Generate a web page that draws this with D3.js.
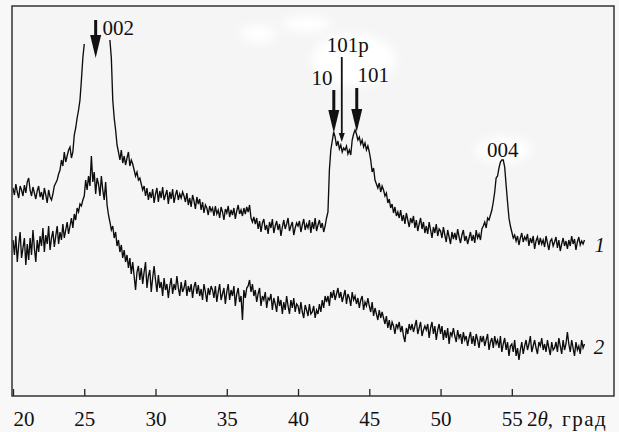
<!DOCTYPE html>
<html>
<head>
<meta charset="utf-8">
<script src="https://cdn.jsdelivr.net/npm/d3@7"></script>
<style>
  html, body { margin: 0; padding: 0; background: #f8f8f8; }
  svg { display: block; }
  svg text { font-family: "Liberation Serif", "Times New Roman", "DejaVu Serif", serif; }
</style>
</head>
<body>
<div id="chart"></div>
<script>
// ── DATA ─────────────────────────────────────────────────────
// XRD scans, 2θ from 20° in 0.1° steps, intensity in arbitrary units
const scanStart = 20.0;
const scanStep  = 0.1;

// pattern 1 (top). the 002 maximum runs off the top of the frame (nulls)
const curve1 = [
  208,201,212,204,198,210,206,200,211,203,
  214,218,206,200,209,203,197,205,210,199,
  204,196,208,201,193,206,199,196,202,210,
  213,216,222,226,236,230,244,234,240,246,
  249,238,244,261,268,278,286,296,316,338,
  352,null,null,null,null,null,null,null,null,null,
  null,null,null,null,null,null,null,null,356,338,
  296,278,266,251,244,236,246,233,240,231,
  238,244,230,236,232,226,220,224,216,218,
  212,206,210,200,208,196,204,198,207,193,
  202,208,194,205,198,209,196,201,206,192,
  204,197,207,193,201,206,196,202,198,204,
  200,194,203,191,198,189,201,195,187,199,
  192,197,186,194,183,191,188,181,190,185,
  188,180,190,182,186,178,189,184,176,187,
  183,190,179,186,181,188,177,185,191,182,
  186,180,188,182,189,184,191,178,174,179,
  172,178,167,175,164,173,177,166,171,162,
  174,168,177,163,170,175,166,172,160,169,
  176,167,172,178,165,170,174,161,168,173,
  170,175,164,171,177,166,172,168,176,163,
  174,167,178,165,171,176,168,173,164,170,
  178,184,226,246,255,264,259,250,255,247,
  251,244,248,246,250,242,246,241,256,262,
  266,262,256,259,252,256,249,253,246,250,
  244,236,224,228,216,212,208,213,204,210,
  206,200,203,193,197,188,192,183,189,180,
  184,178,186,175,181,172,183,176,169,178,
  173,180,168,176,165,172,178,167,174,163,
  170,162,174,166,158,169,163,172,160,167,
  165,158,169,161,154,166,159,152,164,157,
  163,156,167,159,153,161,166,155,160,152,
  158,164,155,161,153,166,158,162,156,167,
  170,174,168,178,176,181,186,194,204,218,
  220,228,234,236,236,229,211,194,178,170,
  164,158,161,155,160,151,158,163,154,159,
  156,162,150,158,153,160,147,155,159,151,
  158,152,156,149,160,153,146,155,157,150,
  154,159,148,156,145,152,158,150,155,147,
  156,150,160,152,157,146,154,159,151,155,
  152,156
];

// pattern 2 (bottom)
const curve2 = [
  156,141,160,134,151,164,138,148,158,131,
  152,136,158,141,166,148,134,156,144,160,
  150,168,144,161,152,170,146,158,165,149,
  160,170,152,164,156,172,158,166,174,162,
  170,178,168,182,176,188,184,192,190,196,
  200,216,206,220,210,240,214,224,202,218,
  212,200,220,206,196,214,191,181,174,166,
  170,158,164,150,156,144,151,138,146,134,
  141,128,138,122,134,120,106,124,130,116,
  128,112,124,134,108,120,126,104,118,130,
  116,104,121,108,114,100,118,106,112,98,
  110,118,102,112,106,120,108,100,114,104,
  108,116,100,110,104,112,98,109,114,102,
  111,100,107,96,112,104,94,108,101,110,
  106,98,110,94,104,112,96,102,108,92,
  104,112,96,106,100,110,90,102,108,94,
  100,76,106,98,108,110,116,104,112,100,
  106,94,102,108,90,100,96,104,88,98,
  96,102,86,98,92,84,100,90,96,82,
  94,86,100,90,82,96,88,98,84,92,
  90,82,94,84,78,91,86,80,92,82,
  84,90,78,86,82,92,84,96,88,100,
  94,100,90,104,98,106,96,102,108,98,
  104,94,100,106,92,102,98,90,104,96,
  100,92,98,88,96,100,86,94,90,98,
  90,84,94,80,88,82,76,86,78,84,
  78,72,80,68,76,66,74,70,62,72,
  68,74,64,70,60,54,68,62,72,66,
  72,64,70,76,62,68,74,60,66,70,
  66,72,58,68,74,62,70,56,66,72,
  62,70,56,66,58,68,52,64,60,68,
  60,54,66,58,62,52,64,56,60,50,
  58,64,52,60,50,62,56,48,60,54,
  60,50,56,62,46,54,58,48,60,52,
  56,48,60,44,52,58,46,54,40,50,
  52,44,56,40,48,36,46,54,42,50,
  56,46,52,60,44,50,56,48,42,54,
  50,58,46,52,44,56,48,41,54,46,
  48,54,44,58,50,42,56,46,52,64,
  52,44,56,48,40,54,46,50,42,56,
  48,52
];

const xTicks = [20, 25, 30, 35, 40, 45, 50, 55];

// reflections: arrow from `top` down to `tip` (intensity units), label position
const peakNames   = ["002", "10", "101p", "101", "004"];
const peakTheta   = [25.80, 42.51, 43.07, 44.12, null];
const peakTip     = [338, 263, 254, 264, null];
const peakTop     = [376, 306, 339, 308, null];
const labelTheta  = [26.28, 42.42, 43.49, 44.17, 54.36];
const labelI      = [361, 311, 344, 314, 239];
const labelAnchor = ["start", "end", "middle", "start", "middle"];

// curve numbers at the right end
const curveNames  = ["1", "2"];
const curveNameTheta = [60.8, 60.75];
const curveNameI  = [144, 42];

// ── DIMENSIONS ───────────────────────────────────────────────
const W = 619, H = 432;
const box = { left: 12, top: 6, right: 614, bottom: 396 };
const fontSize = 21;

const svg = d3.select("#chart").append("svg")
  .attr("width", W).attr("height", H);

const x = d3.scaleLinear().domain([19.93, 62.17]).range([box.left, box.right]);
const y = d3.scaleLinear().domain([0, 390]).range([box.bottom, box.top]);

// plot background
svg.append("rect")
  .attr("x", box.left).attr("y", box.top)
  .attr("width", box.right - box.left).attr("height", box.bottom - box.top)
  .attr("fill", "#f5f5f5");

// soft white patches behind the labels (scan artefacts in the original)
const defs = svg.append("defs");
defs.append("filter").attr("id", "soft")
  .append("feGaussianBlur").attr("stdDeviation", 5);

const patches = svg.append("g").attr("filter", "url(#soft)").attr("fill", "#ffffff");
patches.append("ellipse").attr("cx", x(43.9)).attr("cy", y(336)).attr("rx", 42).attr("ry", 26);
patches.append("ellipse").attr("cx", x(54.4)).attr("cy", y(246)).attr("rx", 28).attr("ry", 13);
patches.append("ellipse").attr("cx", x(37.2)).attr("cy", y(362)).attr("rx", 18).attr("ry", 9);
patches.append("ellipse").attr("cx", x(40.6)).attr("cy", y(372)).attr("rx", 24).attr("ry", 8);

// ── CURVES ───────────────────────────────────────────────────
const toPoints = arr => arr.map((v, i) => ({ theta: scanStart + i * scanStep, v }));

const line = d3.line()
  .defined(d => d.v != null)
  .x(d => x(d.theta))
  .y(d => y(d.v));

svg.selectAll(".scan")
  .data([toPoints(curve1), toPoints(curve2)])
  .join("path")
    .attr("class", "scan")
    .attr("d", line)
    .attr("fill", "none")
    .attr("stroke", "#0d0d0d")
    .attr("stroke-width", 1.35)
    .attr("stroke-linejoin", "miter");

// ── FRAME + AXIS ─────────────────────────────────────────────
const xAxis = svg.append("g")
  .attr("transform", `translate(0,${box.bottom})`)
  .call(d3.axisBottom(x)
    .tickValues(xTicks)
    .tickSizeInner(-7)
    .tickSizeOuter(0)
    .tickPadding(15)
    .tickFormat(d3.format("d")));

xAxis.attr("font-family", null).attr("font-size", fontSize);
xAxis.select(".domain").remove();
xAxis.selectAll(".tick line").attr("stroke", "#222").attr("stroke-width", 1.3);
xAxis.selectAll(".tick text").attr("fill", "#111");
// first label sits just inside the left edge
xAxis.selectAll(".tick text").filter(d => d === 20).attr("text-anchor", "start");

svg.append("rect")
  .attr("x", box.left).attr("y", box.top)
  .attr("width", box.right - box.left).attr("height", box.bottom - box.top)
  .attr("fill", "none")
  .attr("stroke", "#333")
  .attr("stroke-width", 1.5);

// axis title "2θ, град"
const title = svg.append("text")
  .attr("x", 527).attr("y", 426)
  .attr("font-size", fontSize).attr("fill", "#111");
title.append("tspan").text("2");
title.append("tspan").attr("font-style", "italic").text("θ");
title.append("tspan").text(",");
title.append("tspan").attr("dx", 9).attr("letter-spacing", 1.5).text("град");

// ── PEAK ARROWS + LABELS ─────────────────────────────────────
const arrows = svg.append("g").attr("fill", "#111").attr("stroke", "#111");

peakNames.forEach((name, i) => {
  if (peakTheta[i] != null) {
    const px = x(peakTheta[i]);
    const small = name === "101p";
    const headH = small ? 9 : 23;
    const headW = small ? 3 : 5.5;
    const tipY = y(peakTip[i]);
    arrows.append("line")
      .attr("x1", px).attr("x2", px)
      .attr("y1", y(peakTop[i])).attr("y2", tipY - headH + 1)
      .attr("stroke-width", small ? 1.8 : 3);
    arrows.append("path")
      .attr("stroke", "none")
      .attr("d", `M${px - headW},${tipY - headH} L${px + headW},${tipY - headH} L${px},${tipY} Z`);
  }
  svg.append("text")
    .attr("x", x(labelTheta[i]))
    .attr("y", y(labelI[i]))
    .attr("text-anchor", labelAnchor[i])
    .attr("font-size", fontSize)
    .attr("fill", "#111")
    .text(name);
});

// curve numbers
svg.selectAll(".curve-name")
  .data(curveNames)
  .join("text")
    .attr("class", "curve-name")
    .attr("x", (d, i) => x(curveNameTheta[i]))
    .attr("y", (d, i) => y(curveNameI[i]))
    .attr("font-size", fontSize)
    .attr("font-style", "italic")
    .attr("fill", "#111")
    .text(d => d);
</script>
</body>
</html>
